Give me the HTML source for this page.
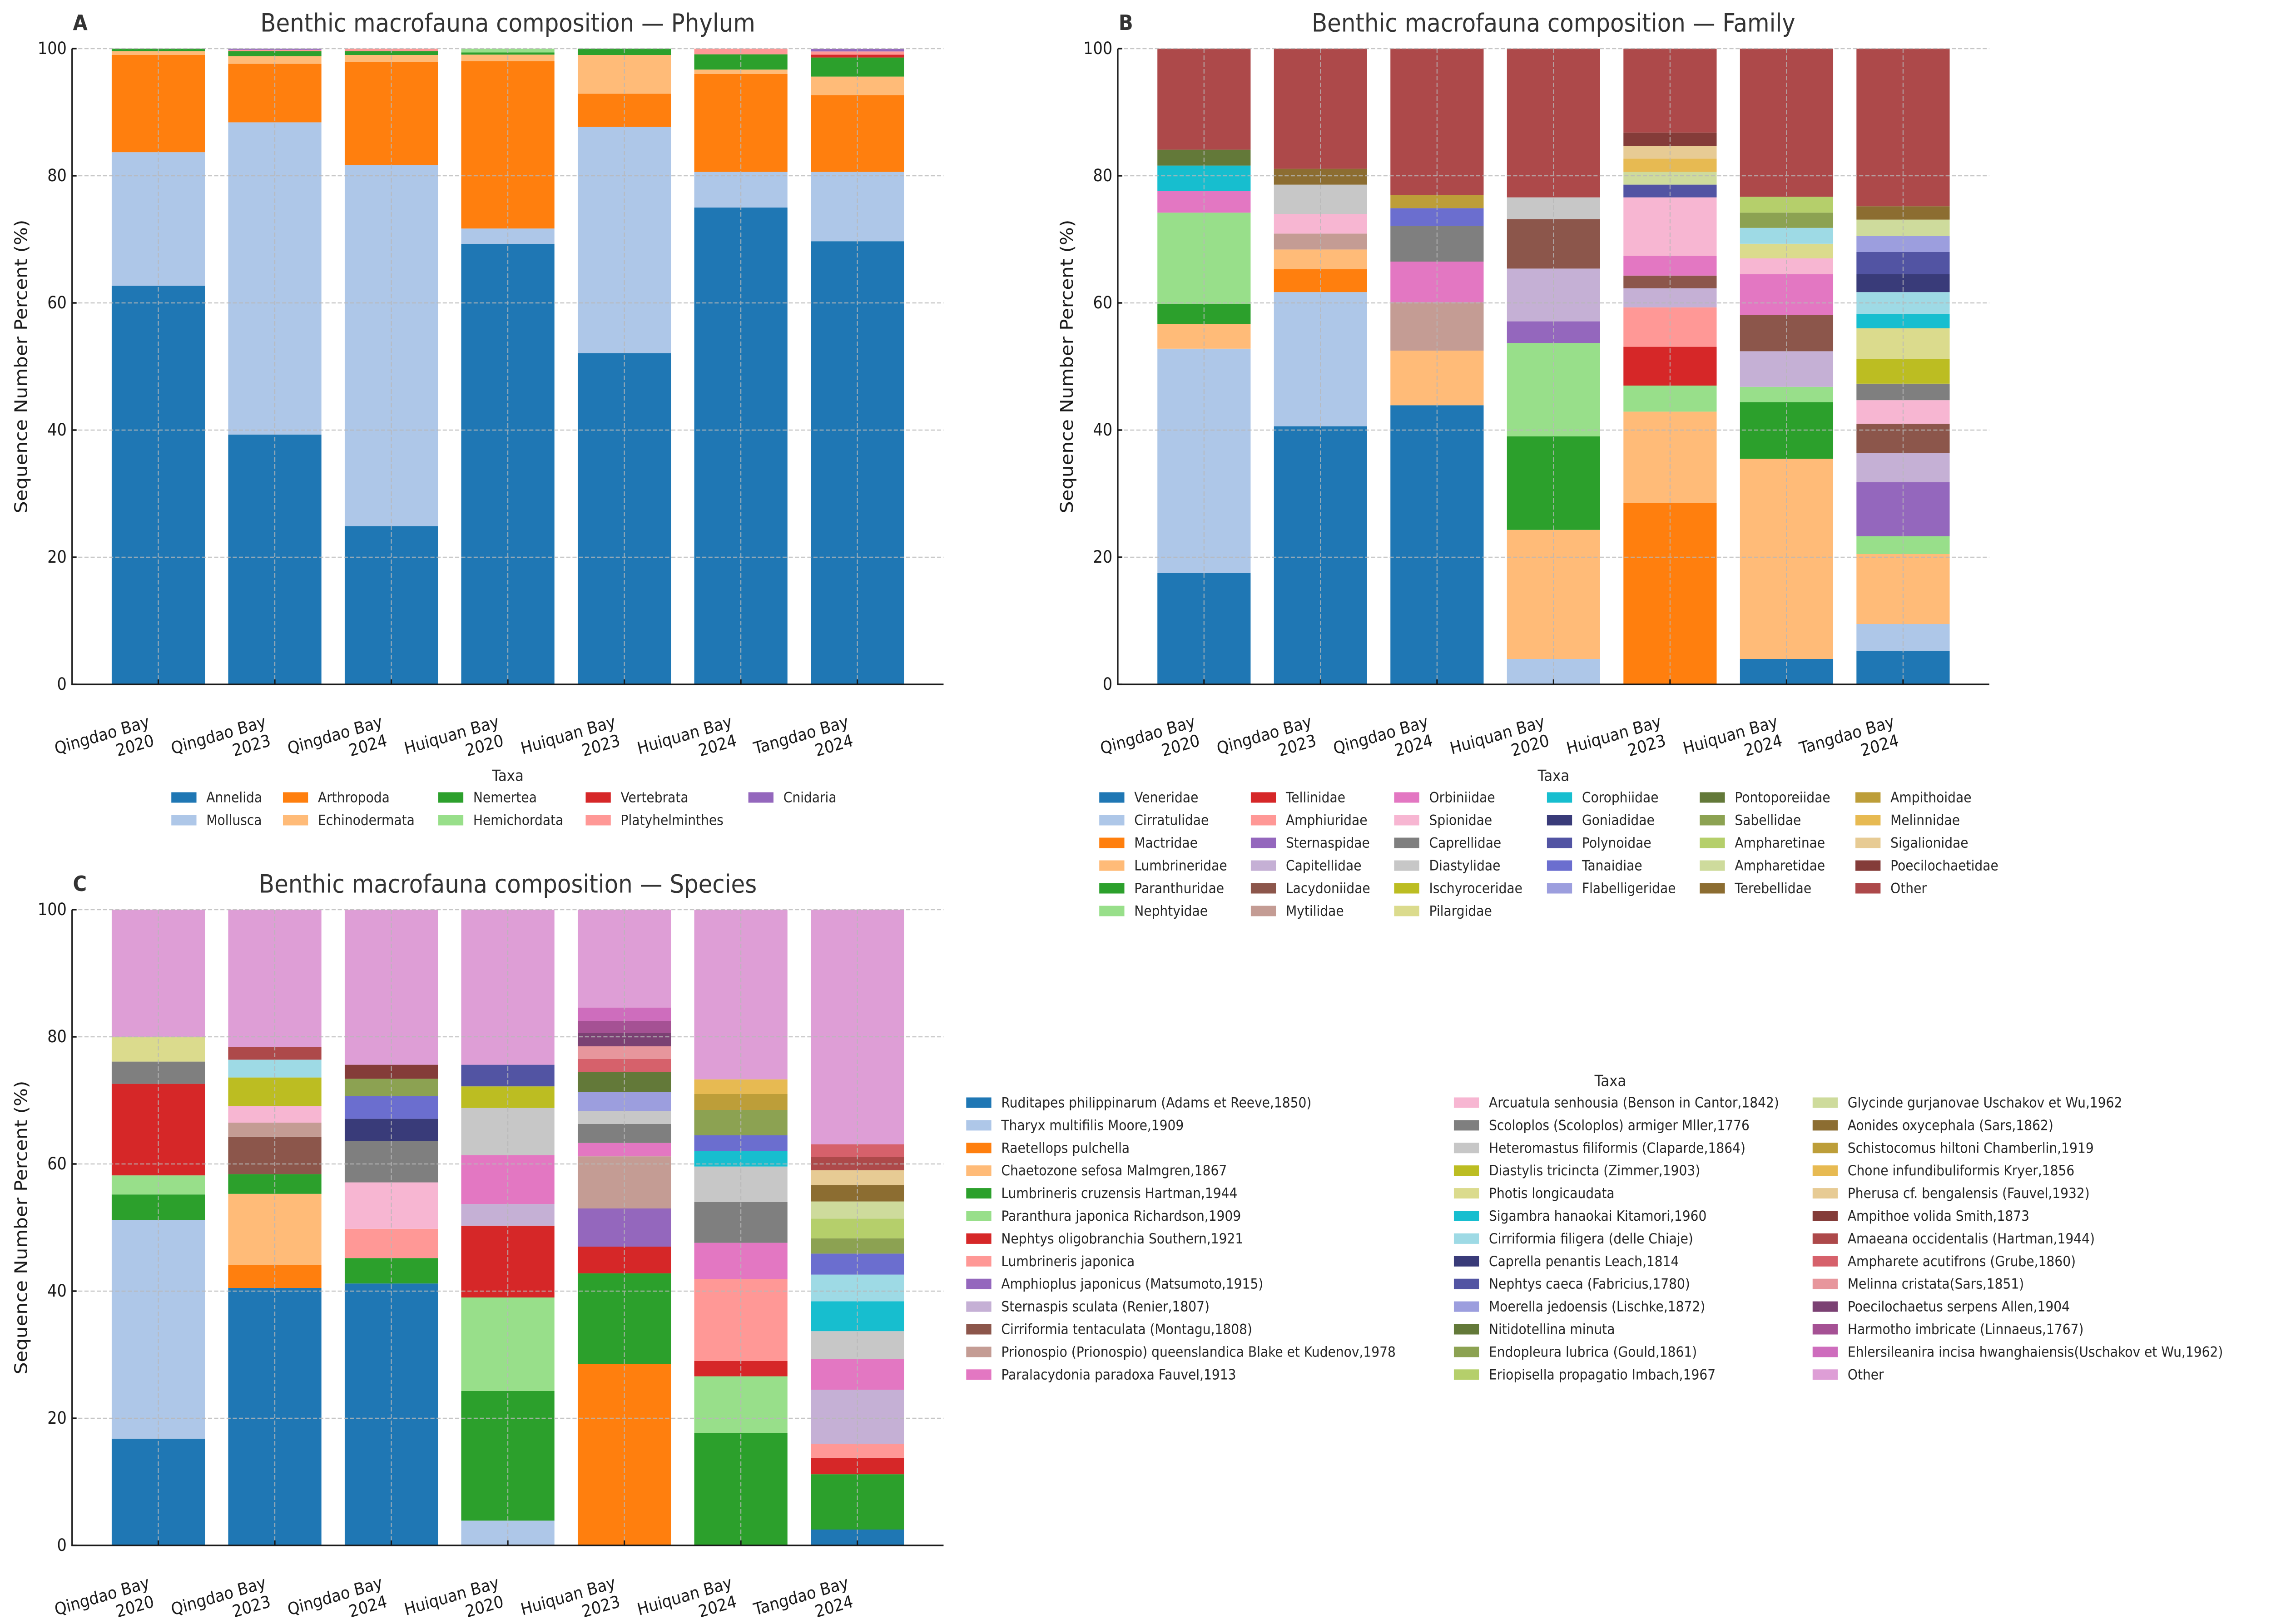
<!DOCTYPE html>
<html><head><meta charset="utf-8"><style>
html,body{margin:0;padding:0;background:#fff;overflow:hidden;width:100%;height:100%;}
svg{display:block;width:100vw;height:100vh;font-family:"DejaVu Sans","Liberation Sans",sans-serif;}
</style></head><body>
<svg id="fig" viewBox="0 0 5514 3576" preserveAspectRatio="none" xmlns="http://www.w3.org/2000/svg"></svg>
<script>
// ---------- shared categories ----------
const sites = [["Qingdao Bay","2020"],["Qingdao Bay","2023"],["Qingdao Bay","2024"],["Huiquan Bay","2020"],["Huiquan Bay","2023"],["Huiquan Bay","2024"],["Tangdao Bay","2024"]];
const yTicks = [0,20,40,60,80,100];

// ---------- Panel A: phylum ----------
const phylumNames = ["Annelida","Mollusca","Arthropoda","Echinodermata","Nemertea","Hemichordata","Vertebrata","Platyhelminthes","Cnidaria"];
const phylumColors = ["#1f77b4","#aec7e8","#ff7f0e","#ffbb78","#2ca02c","#98df8a","#d62728","#ff9896","#9467bd"];
const phylumAnnelida = [62.7,39.3,24.9,69.3,52.1,75.0,69.7];
const phylumMollusca = [21.0,49.1,56.8,2.4,35.6,5.6,10.9];
const phylumArthropoda = [15.3,9.2,16.2,26.3,5.2,15.4,12.1];
const phylumEchinodermata = [0.6,1.2,1.1,1.05,6.1,0.7,2.9];
const phylumNemertea = [0.4,0.8,0.6,0.35,1.0,2.4,3.0];
const phylumHemichordata = [0,0,0,0.6,0,0,0];
const phylumVertebrata = [0,0,0,0,0,0,0.45];
const phylumPlatyhelminthes = [0,0.2,0.4,0,0,0.9,0.5];
const phylumCnidaria = [0,0.2,0,0,0,0,0.4];
const phylumValues = [phylumAnnelida,phylumMollusca,phylumArthropoda,phylumEchinodermata,phylumNemertea,phylumHemichordata,phylumVertebrata,phylumPlatyhelminthes,phylumCnidaria];

// ---------- Panel B: family ----------
const familyNames = ["Veneridae","Cirratulidae","Mactridae","Lumbrineridae","Paranthuridae","Nephtyidae","Tellinidae","Amphiuridae","Sternaspidae","Capitellidae","Lacydoniidae","Mytilidae","Orbiniidae","Spionidae","Caprellidae","Diastylidae","Ischyroceridae","Pilargidae","Corophiidae","Unlisted family","Goniadidae","Polynoidae","Tanaidiae","Flabelligeridae","Pontoporeiidae","Sabellidae","Ampharetinae","Ampharetidae","Terebellidae","Ampithoidae","Melinnidae","Sigalionidae","Poecilochaetidae","Other"];
const familyInLegend = familyNames.filter(n => n !== "Unlisted family");
const familyColors = ["#1f77b4","#aec7e8","#ff7f0e","#ffbb78","#2ca02c","#98df8a","#d62728","#ff9896","#9467bd","#c5b0d5","#8c564b","#c49c94","#e377c2","#f7b6d2","#7f7f7f","#c7c7c7","#bcbd22","#dbdb8d","#17becf","#9edae5","#393b79","#5254a3","#6b6ecf","#9c9ede","#637939","#8ca252","#b5cf6b","#cedb9c","#8c6d31","#bd9e39","#e7ba52","#e7cb94","#843c39","#ad494a"];
const familyValues = [
 [17.5,40.6,43.9,0,0,4.0,5.3],
 [35.3,21.1,0,4.0,0,0,4.2],
 [0,3.6,0,0,28.5,0,0],
 [3.9,3.1,8.6,20.3,14.4,31.5,11.0],
 [3.1,0,0,14.7,0,8.9,0],
 [14.4,0,0,14.7,4.1,2.4,2.8],
 [0,0,0,0,6.1,0,0],
 [0,0,0,0,6.2,0,0],
 [0,0,0,3.4,0,0,8.5],
 [0,0,0,8.3,3.0,5.6,4.6],
 [0,0,0,7.8,2.0,5.7,4.6],
 [0,2.5,7.6,0,0,0,0],
 [3.4,0,6.4,0,3.1,6.4,0],
 [0,3.1,0,0,9.2,2.5,3.7],
 [0,0,5.6,0,0,0,2.6],
 [0,4.6,0,3.4,0,0,0],
 [0,0,0,0,0,0,3.9],
 [0,0,0,0,0,2.3,4.8],
 [4.0,0,0,0,0,0,2.3],
 [0,0,0,0,0,2.5,3.4],
 [0,0,0,0,0,0,2.8],
 [0,0,0,0,2.0,0,3.5],
 [0,0,2.8,0,0,0,0],
 [0,0,0,0,0,0,2.5],
 [2.5,0,0,0,0,0,0],
 [0,0,0,0,0,2.4,0],
 [0,0,0,0,0,2.5,0],
 [0,0,0,0,2.0,0,2.6],
 [0,2.5,0,0,0,0,2.1],
 [0,0,2.1,0,0,0,0],
 [0,0,0,0,2.1,0,0],
 [0,0,0,0,2.0,0,0],
 [0,0,0,0,2.1,0,0],
 [15.9,18.9,23.0,23.4,13.2,23.3,24.8]
];

// ---------- Panel C: species ----------
const speciesNames = ["Ruditapes philippinarum (Adams et Reeve,1850)","Tharyx multifilis Moore,1909","Raetellops pulchella","Chaetozone sefosa Malmgren,1867","Lumbrineris cruzensis Hartman,1944","Paranthura japonica Richardson,1909","Nephtys oligobranchia Southern,1921","Lumbrineris japonica","Amphioplus japonicus (Matsumoto,1915)","Sternaspis sculata (Renier,1807)","Cirriformia tentaculata (Montagu,1808)","Prionospio (Prionospio) queenslandica Blake et Kudenov,1978","Paralacydonia paradoxa Fauvel,1913","Arcuatula senhousia (Benson in Cantor,1842)","Scoloplos (Scoloplos) armiger Mller,1776","Heteromastus filiformis (Claparde,1864)","Diastylis tricincta (Zimmer,1903)","Photis longicaudata","Sigambra hanaokai Kitamori,1960","Cirriformia filigera (delle Chiaje)","Caprella penantis Leach,1814","Nephtys caeca (Fabricius,1780)","Unlisted species","Moerella jedoensis (Lischke,1872)","Nitidotellina minuta","Endopleura lubrica (Gould,1861)","Eriopisella propagatio Imbach,1967","Glycinde gurjanovae Uschakov et Wu,1962","Aonides oxycephala (Sars,1862)","Schistocomus hiltoni Chamberlin,1919","Chone infundibuliformis Kryer,1856","Pherusa cf. bengalensis (Fauvel,1932)","Ampithoe volida Smith,1873","Amaeana occidentalis (Hartman,1944)","Ampharete acutifrons (Grube,1860)","Melinna cristata(Sars,1851)","Poecilochaetus serpens Allen,1904","Harmotho imbricate (Linnaeus,1767)","Ehlersileanira incisa hwanghaiensis(Uschakov et Wu,1962)","Other"];
const speciesColors = ["#1f77b4","#aec7e8","#ff7f0e","#ffbb78","#2ca02c","#98df8a","#d62728","#ff9896","#9467bd","#c5b0d5","#8c564b","#c49c94","#e377c2","#f7b6d2","#7f7f7f","#c7c7c7","#bcbd22","#dbdb8d","#17becf","#9edae5","#393b79","#5254a3","#6b6ecf","#9c9ede","#637939","#8ca252","#b5cf6b","#cedb9c","#8c6d31","#bd9e39","#e7ba52","#e7cb94","#843c39","#ad494a","#d6616b","#e7969c","#7b4173","#a55194","#ce6dbd","#de9ed6"];
const speciesValues = [
 [16.8,40.5,41.2,0,0,0,2.5],
 [34.4,0,0,3.9,0,0,0],
 [0,3.6,0,0,28.5,0,0],
 [0,11.2,0,0,0,0,0],
 [4.0,3.1,4.0,20.4,14.3,17.7,8.7],
 [3.0,0,0,14.7,0,8.9,0],
 [14.4,0,0,11.3,4.2,2.4,2.6],
 [0,0,4.6,0,0,12.9,2.2],
 [0,0,0,0,6.0,0,0],
 [0,0,0,3.4,0,0,8.5],
 [0,5.9,0,0,0,0,0],
 [0,2.2,0,0,8.2,0,0],
 [0,0,0,7.7,2.1,5.7,4.8],
 [0,2.6,7.3,0,0,0,0],
 [3.5,0,6.5,0,3.0,6.4,0],
 [0,0,0,7.4,2.0,5.6,4.4],
 [0,4.5,0,3.4,0,0,0],
 [3.9,0,0,0,0,0,0],
 [0,0,0,0,0,2.4,4.7],
 [0,2.8,0,0,0,0,4.2],
 [0,0,3.5,0,0,0,0],
 [0,0,0,3.4,0,0,0],
 [0,0,3.6,0,0,2.5,3.3],
 [0,0,0,0,3.0,0,0],
 [0,0,0,0,3.2,0,0],
 [0,0,2.7,0,0,4.0,2.4],
 [0,0,0,0,0,0,3.1],
 [0,0,0,0,0,0,2.7],
 [0,0,0,0,0,0,2.6],
 [0,0,0,0,0,2.5,0],
 [0,0,0,0,0,2.3,0],
 [0,0,0,0,0,0,2.3],
 [0,0,2.2,0,0,0,0],
 [0,2.0,0,0,0,0,2.1],
 [0,0,0,0,2.0,0,2.0],
 [0,0,0,0,2.0,0,0],
 [0,0,0,0,2.1,0,0],
 [0,0,0,0,1.9,0,0],
 [0,0,0,0,2.1,0,0],
 [20.0,21.6,24.4,24.4,15.4,26.7,36.9]
];
const speciesInLegend = speciesNames.filter(n => n !== "Unlisted species");

// ---------- drawing ----------
const NS = "http://www.w3.org/2000/svg";
const svg = document.getElementById("fig");
function mk(tag, attrs, parent){
  const e = document.createElementNS(NS, tag);
  for (const k in attrs) e.setAttribute(k, attrs[k]);
  (parent||svg).appendChild(e);
  return e;
}
const TXT = "#262626";
const AXW = 2116, AXH = 1400;

function drawPanel(cfg){
  const g = mk("g", {});
  
  
  const L = cfg.left, R = cfg.left + AXW, Y0 = cfg.y0, H = AXH;
  const step = AXW / 7.48, bw = 0.8 * step;
  const xPos = i => L + (i + 0.74) * step;
  const yPos = v => Y0 - v / 100 * H;

  const bars = mk("g", {}, g);
  
  
  for (let i = 0; i < sites.length; i++){
    let cum = 0;
    for (let s = 0; s < cfg.values.length; s++){
      const v = cfg.values[s][i];
      if (!v) continue;
      const r = mk("rect", {x: xPos(i) - bw/2, y: yPos(cum + v), width: bw, height: yPos(cum) - yPos(cum + v), fill: cfg.colors[s]}, bars);
      
      
      cum += v;
    }
  }
  const grid = mk("g", {stroke: "#b8b8b8", "stroke-width": 2.5, "stroke-dasharray": "10,5", opacity: 0.8}, g);
  
  
  yTicks.forEach(t => { if (t > 0) mk("line", {x1: L, x2: R, y1: yPos(t), y2: yPos(t)}, grid); });
  sites.forEach((s, i) => mk("line", {x1: xPos(i), x2: xPos(i), y1: yPos(100), y2: Y0}, grid));

  const ax = mk("g", {stroke: "#1a1a1a", "stroke-width": 3.5}, g);
  
  
  mk("line", {x1: L, x2: L, y1: yPos(100), y2: Y0 + 1.5}, ax);
  mk("line", {x1: L - 1.5, x2: R, y1: Y0, y2: Y0}, ax);
  yTicks.forEach(t => {
    mk("line", {x1: L, x2: L + 11, y1: yPos(t), y2: yPos(t)}, ax);
    const tx = mk("text", {x: L - 13, y: yPos(t), "text-anchor": "end", "dominant-baseline": "central", "font-size": 37, fill: "#1a1a1a", stroke: "none"}, g);
    tx.textContent = t;
    
    
  });
  sites.forEach((s, i) => {
    mk("line", {x1: xPos(i), x2: xPos(i), y1: Y0, y2: Y0 - 11}, ax);
    const tg = mk("g", {transform: `translate(${xPos(i) - 27},${Y0 + 64}) rotate(-15)`}, g);
    const tx = mk("text", {"text-anchor": "end", "font-size": 37, fill: "#1a1a1a"}, tg);
    
    
    const t1 = mk("tspan", {x: 0, y: 30}, tx); t1.textContent = s[0];
    const t2 = mk("tspan", {x: 0, y: 73}, tx); t2.textContent = s[1];
  });
  const yl = mk("text", {transform: `translate(${L - 123},${Y0 - H/2}) rotate(-90)`, "text-anchor": "middle", "dominant-baseline": "central", "font-size": 42, fill: "#1a1a1a"}, g);
  yl.textContent = "Sequence Number Percent (%)";
  
  
  const ti = mk("text", {x: (L + R)/2, y: Y0 - H - 56, "text-anchor": "middle", "dominant-baseline": "central", "font-size": 55, fill: "#333"}, g);
  ti.textContent = cfg.title;
  
  
  const le = mk("text", {x: L + 2, y: Y0 - H - 56, "dominant-baseline": "central", "font-size": 46, "font-weight": "bold", fill: "#333"}, g);
  le.textContent = cfg.letter;
  
  
}

function drawLegend(cfg){
  const g = mk("g", {});
  
  
  const tt = mk("text", {x: cfg.titleX, y: cfg.titleY, "text-anchor": "middle", "dominant-baseline": "central", "font-size": 34, fill: TXT}, g);
  tt.textContent = "Taxa";
  
  
  const n = cfg.names.length, ncol = cfg.cols.length;
  const base = Math.floor(n / ncol), extra = n % ncol;
  let idx = 0;
  for (let c = 0; c < ncol; c++){
    const rows = base + (c < extra ? 1 : 0);
    for (let r = 0; r < rows; r++, idx++){
      const name = cfg.names[idx];
      const color = cfg.colorOf(name);
      const y = cfg.rowY + r * cfg.rowH;
      const e = mk("g", {}, g);
      
      
      mk("rect", {x: cfg.cols[c], y: y - 11.5, width: 61, height: 23, fill: color}, e);
      const t = mk("text", {x: cfg.cols[c] + 85, y: y, "dominant-baseline": "central", "font-size": 31, fill: TXT}, e);
      t.textContent = name;
      
      
    }
  }
}

drawPanel({key: "phylum", left: 175, y0: 1507, title: "Benthic macrofauna composition — Phylum", letter: "A", values: phylumValues, colors: phylumColors});
drawPanel({key: "family", left: 2714, y0: 1507, title: "Benthic macrofauna composition — Family", letter: "B", values: familyValues, colors: familyColors});
drawPanel({key: "species", left: 175, y0: 3403, title: "Benthic macrofauna composition — Species", letter: "C", values: speciesValues, colors: speciesColors});

drawLegend({key: "phylum", names: phylumNames, colorOf: n => phylumColors[phylumNames.indexOf(n)], cols: [416, 687, 1064, 1422, 1817], rowY: 1756, rowH: 50, titleX: 1233, titleY: 1708});
drawLegend({key: "family", names: familyInLegend, colorOf: n => familyColors[familyNames.indexOf(n)], cols: [2669, 3037, 3385, 3756, 4127, 4505], rowY: 1756, rowH: 50, titleX: 3772, titleY: 1708});
drawLegend({key: "species", names: speciesInLegend, colorOf: n => speciesColors[speciesNames.indexOf(n)], cols: [2346, 3530, 4401], rowY: 2428, rowH: 49.9, titleX: 3910, titleY: 2380});

// keep every text inside the frame
document.querySelectorAll("#fig text").forEach(t => {
  try {
    const bb = t.getBBox();
    const x = parseFloat(t.getAttribute("x") || "0");
    if (t.getAttribute("text-anchor") !== "end" && t.getAttribute("text-anchor") !== "middle" && x + bb.width > 5505) {
      t.setAttribute("textLength", Math.max(10, 5505 - x));
      t.setAttribute("lengthAdjust", "spacingAndGlyphs");
    }
  } catch (e) {}
});
</script>
</body></html>
